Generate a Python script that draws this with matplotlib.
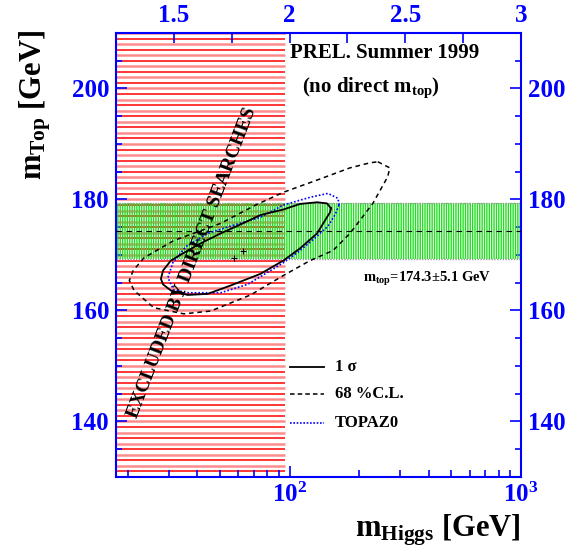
import numpy as np
import matplotlib
matplotlib.use("Agg")
import matplotlib.pyplot as plt
from matplotlib.ticker import FixedLocator, NullFormatter

plt.rcParams['font.family'] = ['Liberation Serif', 'DejaVu Serif']
plt.rcParams['font.weight'] = 'bold'
plt.rcParams['mathtext.fontset'] = 'custom'
plt.rcParams['mathtext.rm'] = 'Liberation Serif:bold'
plt.rcParams['mathtext.bf'] = 'Liberation Serif:bold'
plt.rcParams['mathtext.it'] = 'Liberation Serif:bold:italic'
plt.rcParams['hatch.linewidth'] = 1.0

# ---- data ----
mh_excluded = 95.2            # direct search limit [GeV]
mtop_meas = 174.3
mtop_err = 5.1

# 1 sigma contour (mH [GeV], mtop [GeV])
sig_mh = [151, 145, 131.5, 111, 94, 74.8, 61.4, 50.4, 41.3, 36.3, 30.7, 28.4,
          27.8, 28.4, 30.7, 36.3, 44.3, 55.6, 74.8, 94, 111, 131.5, 149.6, 151]
sig_mt = [178.4, 179.3, 179.5, 179.2, 178.2, 177.2, 175.5, 173.9, 172.1, 170.8,
          169.0, 167.2, 165.7, 164.7, 163.6, 162.8, 163.0, 164.5, 166.6, 169.0,
          171.2, 173.9, 177.7, 178.4]

# 68% C.L. contour
cl_mh = [240.5, 271, 265.5, 229, 182.4, 154, 122.7, 94, 67.8, 45.6, 34.9, 25.9,
         21.3, 20.3, 21.1, 23.5, 31.6, 50.4, 71.3, 94, 131.5, 182.4, 222, 240.5]
cl_mt = [186.8, 185.7, 184.1, 179.3, 173.9, 170.8, 169.0, 166.3, 162.8, 159.9,
         159.4, 160.5, 163.6, 165.4, 167.2, 169.5, 172.6, 175.7, 179.0, 181.3,
         183.5, 185.7, 186.6, 186.8]

# TOPAZ0 contour
tz_mh = [163.7, 161.9, 146.6, 122.7, 94, 74.8, 55.6, 44.3, 35.6, 31.3, 29.8,
         31.6, 36.3, 50.4, 65.8, 74.8, 94, 111, 131.5, 146.6, 157, 163.7]
tz_mt = [179.0, 180.2, 181.1, 180.4, 179.0, 176.8, 175.2, 173.9, 171.5, 168.6,
         165.9, 163.7, 163.2, 163.2, 164.7, 166.1, 168.6, 170.8, 173.4, 175.2,
         177.2, 179.0]

best_mh = [57.4, 62.7]
best_mt = [169.5, 170.8]

ytick_major = [140, 160, 180, 200]
top_ticks = [1.5, 2, 2.5, 3]
top_labels = ['1.5', '2', '2.5', '3']

# ---- figure ----
W, H = 573, 550
fig = plt.figure(figsize=(W / 100, H / 100), dpi=100)
ax = fig.add_axes([116 / W, 1 - 477 / H, (521 - 116) / W, (477 - 33) / H])
xmin, xmax = 10 ** 1.25, 1000
ax.set_xscale('log')
ax.set_xlim(xmin, xmax)
ax.set_ylim(130, 210)

# excluded region: red horizontal hatching
for i, y in enumerate(np.arange(130, 211, 1)):
    ax.hlines(y, xmin, mh_excluded, color='#ff0000' if i % 2 else '#ff8c8c',
              lw=1.1 if i % 2 else 1.8, zorder=1)

# mtop band: green vertical hatching
ax.fill_between([xmin, xmax], mtop_meas - mtop_err, mtop_meas + mtop_err,
                facecolor='none', edgecolor='#22dd22', hatch='|' * 7, lw=0,
                zorder=2)
for yb in (mtop_meas - mtop_err, mtop_meas + mtop_err):
    ax.axhline(yb, color='#999999', lw=1, ls=(0, (1, 1)), zorder=2)
ax.axhline(mtop_meas, color='black', lw=0.8, ls=(0, (5, 4)), zorder=3)

# contours
ax.plot(sig_mh, sig_mt, color='black', lw=1.3, zorder=5)
ax.plot(cl_mh, cl_mt, color='black', lw=1.1, ls=(0, (3, 2.5)), zorder=5)
ax.plot(tz_mh, tz_mt, color='blue', lw=1.2, ls=(0, (1, 1.2)), zorder=4)
ax.plot(best_mh, best_mt, ls='none', marker='+', color='black', ms=5, mew=0.8,
        zorder=5)

# texts
ax.text(37.8, 168.6, 'EXCLUDED BY DIRECT SEARCHES', rotation=69,
        rotation_mode='anchor', ha='center', va='center', fontsize=14,
        zorder=6)
fig.text(290 / W, 1 - 58 / H, 'PREL. Summer 1999', fontsize=15,
         va='baseline', ha='left')
fig.text(302 / W, 1 - 92 / H, r'(no direct $\mathbf{m}_{\mathbf{top}}$)',
         fontsize=15, va='baseline', ha='left')
fig.text(363 / W, 1 - 282 / H,
         r'$\mathbf{m}_{\mathbf{top}}$=174.3$\pm$5.1 GeV', fontsize=10.5,
         va='baseline', ha='left')

# legend (drawn by hand as in the original)
leg_y = [149.8, 144.9, 139.8]
leg_lbl = ['1 σ', '68 %C.L.', 'TOPAZ0']
leg_sty = [dict(color='black', lw=1.3), dict(color='black', lw=1.1, ls=(0, (3, 2))),
           dict(color='blue', lw=1.2, ls=(0, (1, 1)))]
for yy, lbl, sty in zip(leg_y, leg_lbl, leg_sty):
    ax.plot([10 ** 2.0, 10 ** 2.15], [yy, yy], **sty)
    ax.text(10 ** 2.197, yy, lbl, fontsize=12, va='center', ha='left')

# axes styling
for sp in ax.spines.values():
    sp.set_color('blue')
    sp.set_linewidth(1.5)
ax.yaxis.set_major_locator(FixedLocator(ytick_major))
ax.yaxis.set_minor_locator(FixedLocator(np.arange(130, 211, 5)))
ax.tick_params(axis='y', which='both', direction='in', left=True, right=True,
               labelleft=True, labelright=True, colors='blue', labelsize=18,
               width=1.2)
ax.tick_params(axis='y', which='major', length=8, pad=5)
ax.tick_params(axis='y', which='minor', length=4)
ax.tick_params(axis='x', which='both', direction='in', bottom=True, top=False,
               colors='blue', labelsize=18, width=1.2)
ax.tick_params(axis='x', which='major', length=8, pad=4)
ax.tick_params(axis='x', which='minor', length=5)
ax.xaxis.set_major_locator(FixedLocator([100, 1000]))
ax.xaxis.set_major_formatter(matplotlib.ticker.FixedFormatter(
    [r'$\mathbf{10^{2}}$', r'$\mathbf{10^{3}}$']))
ax.xaxis.set_minor_locator(FixedLocator([20, 30, 40, 50, 60, 70, 80, 90, 200, 300,
                                         400, 500, 600, 700, 800, 900]))
ax.xaxis.set_minor_formatter(NullFormatter())
for lab in ax.get_yticklabels():
    lab.set_fontweight('bold')

# top axis in log10(mH)
ax2 = ax.twiny()
ax2.set_xlim(1.25, 3)
ax2.xaxis.set_major_locator(FixedLocator(top_ticks))
ax2.set_xticklabels(top_labels)
ax2.xaxis.set_minor_locator(FixedLocator([1.25, 1.75, 2.25, 2.75]))
ax2.tick_params(axis='x', which='both', direction='in', colors='blue',
                labelsize=18, length=7, width=1.2, pad=4)
for sp in ax2.spines.values():
    sp.set_visible(False)

# axis titles
fig.text(35 / W, 1 - 30 / H, r'$\mathbf{m}_{\mathbf{Top}}$ [GeV]', rotation=90,
         ha='center', va='top', fontsize=22)
fig.text(521 / W, 1 - 537 / H, r'$\mathbf{m}_{\mathbf{Higgs}}$ [GeV]',
         ha='right', va='baseline', fontsize=22)

fig.savefig('out.png', dpi=100)
